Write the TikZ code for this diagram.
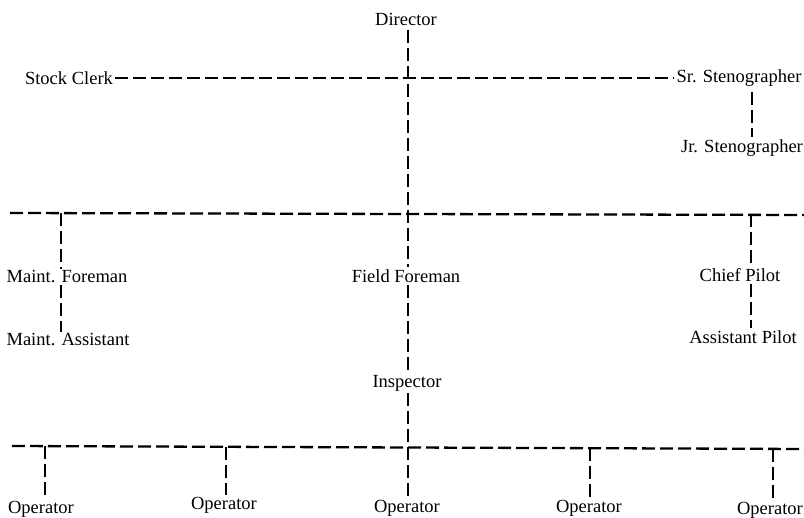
\documentclass[tikz,border=0pt]{standalone}
\usepackage{fontspec}
\setmainfont{Liberation Serif}
\begin{document}
\begin{tikzpicture}[x=1pt,y=-1pt,
  lbl/.style={font=\fontsize{18.5}{21}\selectfont, inner sep=2pt},
  dl/.style={line width=2.3pt, dash pattern=on 13pt off 5pt}]
\useasboundingbox (0,0) rectangle (804,518);
% labels
\node[lbl] (dir) at (406,19) {Director};
\node[lbl] (clerk) at (69,78) {Stock Clerk};
\node[lbl] (sr) at (739,78) {Sr. Stenographer};
\node[lbl] (jr) at (742,148) {Jr. Stenographer};
\node[lbl] (mf) at (67,277) {Maint. Foreman};
\node[lbl] (ma) at (68,340) {Maint. Assistant};
\node[lbl] (ff) at (406,276) {Field Foreman};
\node[lbl] (cp) at (740,275) {Chief Pilot};
\node[lbl] (ap) at (743,337) {Assistant Pilot};
\node[lbl] (insp) at (407,383) {Inspector};
\node[lbl] (op1) at (41,509) {Operator};
\node[lbl] (op2) at (224,505) {Operator};
\node[lbl] (op3) at (407,508) {Operator};
\node[lbl] (op4) at (589,508) {Operator};
\node[lbl] (op5) at (770,510) {Operator};
% junction coordinates
\coordinate (mL) at (10,213);
\coordinate (mR) at (804,215);
\coordinate (bL) at (12,446);
\coordinate (bR) at (804,449);
\coordinate (m1) at (61,213);
\coordinate (m3) at (751,214);
\coordinate (b1) at (45,446);
\coordinate (b2) at (226,447);
\coordinate (b4) at (590,448);
\coordinate (b5) at (773,449);
\coordinate (sx) at (752,92);
\coordinate (vtop) at (408,30);
% top
\draw[dl] (clerk.east) -- (sr.west);
\draw[dl] (sx) -- (sx |- jr.north);
% middle
\draw[dl] (mL) -- (mR);
\draw[dl] (vtop) -- (vtop |- ff.north);
\draw[dl] (m1) -- (m1 |- mf.north);
\draw[dl] (m1 |- mf.south) -- (m1 |- ma.north);
\draw[dl] (m3) -- (m3 |- cp.north);
\draw[dl] (m3 |- cp.south) -- (m3 |- ap.north);
% lower
\draw[dl] (vtop |- ff.south) -- (vtop |- insp.north);
\draw[dl] (vtop |- insp.south) -- (vtop |- op3.north);
\draw[dl] (bL) -- (bR);
\draw[dl] (b1) -- (b1 |- op1.north);
\draw[dl] (b2) -- (b2 |- op2.north);
\draw[dl] (b4) -- (b4 |- op4.north);
\draw[dl] (b5) -- (b5 |- op5.north);
\end{tikzpicture}
\end{document}
